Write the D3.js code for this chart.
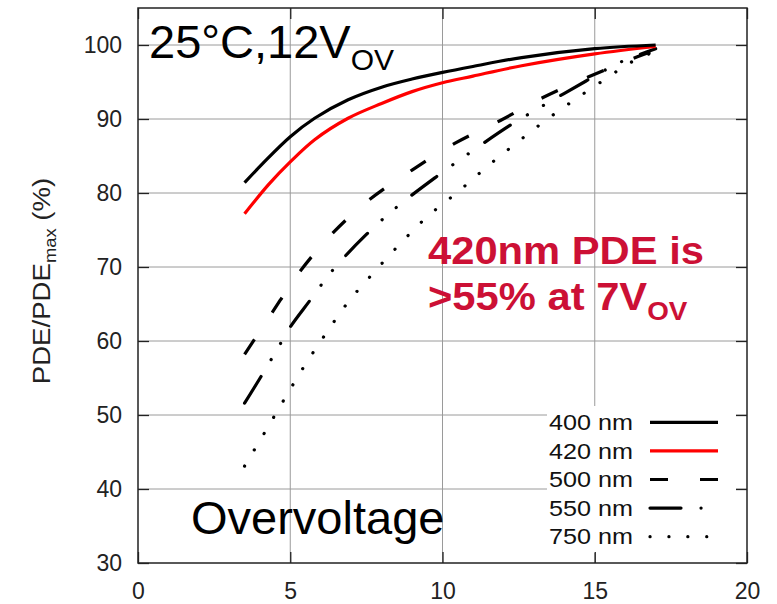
<!DOCTYPE html>
<html>
<head>
<meta charset="utf-8">
<script src="https://cdn.jsdelivr.net/npm/d3@7"></script>
<style>
  body { margin: 0; background: #fff; }
  svg text { font-family: "Liberation Sans", Arial, sans-serif; }
</style>
</head>
<body>
<div id="chart"></div>
<script>
// PDE/PDEmax vs overvoltage
var v400 = [3.5, 4.1, 5.0, 5.8, 6.9, 8.0, 9.0, 10.0, 11.0, 12.6, 15.0, 17.0];
var p400 = [81.4, 84.0, 87.6, 90.1, 92.6, 94.3, 95.4, 96.3, 97.1, 98.3, 99.5, 100.0];

var v420 = [3.5, 4.3, 5.0, 5.8, 6.9, 8.0, 9.0, 10.0, 11.0, 12.6, 15.0, 17.0];
var p420 = [77.2, 81.2, 84.2, 87.2, 90.1, 92.1, 93.7, 94.9, 95.8, 97.2, 98.8, 99.8];

var v500 = [3.5, 4.4, 5.3, 6.4, 7.6, 9.0, 10.4, 11.9, 13.3, 14.8, 16.4, 17.0];
var p500 = [58.2, 63.8, 69.3, 74.6, 79.1, 83.1, 86.7, 89.8, 92.9, 95.7, 98.4, 99.3];

var v550 = [3.5, 4.1, 4.7, 5.0, 5.65, 6.4, 7.5, 8.5, 9.8, 11.3, 12.2, 13.3, 14.7, 15.8, 17.0];
var p550 = [51.6, 55.6, 59.8, 61.9, 65.5, 69.6, 74.4, 78.1, 82.2, 86.6, 89.1, 91.8, 95.1, 97.6, 99.5];

var v750 = [3.5, 4.17, 4.8, 5.46, 6.17, 6.91, 7.73, 8.6, 9.5, 10.49, 11.45, 12.44, 13.45, 14.48, 15.53, 16.07, 17.0];
var p750 = [43.1, 47.7, 52.1, 56.6, 61.0, 65.3, 69.2, 73.1, 76.8, 80.1, 83.5, 86.8, 90.0, 93.0, 95.9, 97.4, 99.2];

var seriesNames = ["400 nm", "420 nm", "500 nm", "550 nm", "750 nm"];
var xTicks = [0, 5, 10, 15, 20];
var yTicks = [30, 40, 50, 60, 70, 80, 90, 100];

var W = 777, H = 604;
// plot edges (don't call these top/left at global scope, window.top is taken)
var pL = 138, pR = 747, pT = 8, pB = 563;

var svg = d3.select("#chart").append("svg")
    .attr("width", W)
    .attr("height", H);

var x = d3.scaleLinear().domain([0, 20]).range([pL, pR]);
var y = d3.scaleLinear().domain([30, 105]).range([pB, pT]);

// grid
svg.append("g").selectAll("line")
    .data([5, 10, 15])
    .enter().append("line")
    .attr("x1", function (d) { return x(d); })
    .attr("x2", function (d) { return x(d); })
    .attr("y1", pT).attr("y2", pB)
    .style("stroke", "#9a9a9a").style("stroke-width", 1);
svg.append("g").selectAll("line")
    .data(yTicks.slice(1))
    .enter().append("line")
    .attr("x1", pL).attr("x2", pR)
    .attr("y1", function (d) { return y(d); })
    .attr("y2", function (d) { return y(d); })
    .style("stroke", "#9a9a9a").style("stroke-width", 1);

// line styles (gnuplot-ish), dots need round caps to show up
var styles = [
    {colour: "#000", dash: null, cap: "butt"},
    {colour: "#f00", dash: null, cap: "butt"},
    {colour: "#000", dash: "18 32", cap: "butt"},
    {colour: "#000", dash: "31 20 0.1 18.5 0.1 20", cap: "round"},
    {colour: "#000", dash: "0.1 18.8", cap: "round"}
];

var data = [
    d3.zip(v400, p400),
    d3.zip(v420, p420),
    d3.zip(v500, p500),
    d3.zip(v550, p550),
    d3.zip(v750, p750)
];

var line = d3.line()
    .x(function (d) { return x(d[0]); })
    .y(function (d) { return y(d[1]); })
    .curve(d3.curveCatmullRom.alpha(0.5));

for (var i = data.length - 1; i >= 0; i--) {
    var p = svg.append("path")
        .attr("d", line(data[i]))
        .style("fill", "none")
        .style("stroke", styles[i].colour)
        .style("stroke-width", 3.2)
        .style("stroke-linecap", styles[i].cap);
    if (styles[i].dash) p.style("stroke-dasharray", styles[i].dash);
}

// legend box
svg.append("rect")
    .attr("x", 547).attr("y", 406)
    .attr("width", 189).attr("height", 147)
    .style("fill", "#fff");

var lg = svg.append("g");
seriesNames.forEach(function (name, i) {
    var ly = 422.3 + i * 28.6;
    lg.append("text")
        .attr("x", 633).attr("y", ly)
        .attr("dy", "0.35em")
        .attr("text-anchor", "end")
        .attr("font-size", "22px")
        .attr("textLength", 84)
        .attr("lengthAdjust", "spacingAndGlyphs")
        .style("fill", "#111")
        .text(name);
    var l = lg.append("line")
        .attr("x1", 650).attr("x2", 718)
        .attr("y1", ly).attr("y2", ly)
        .style("stroke", styles[i].colour)
        .style("stroke-width", 3.2)
        .style("stroke-linecap", styles[i].cap);
    if (styles[i].dash) l.style("stroke-dasharray", styles[i].dash);
});

// frame + mirrored ticks
svg.append("rect")
    .attr("x", pL).attr("y", pT)
    .attr("width", pR - pL).attr("height", pB - pT)
    .style("fill", "none").style("stroke", "#222").style("stroke-width", 1.5);

svg.append("g")
    .attr("transform", "translate(" + pL + ",0)")
    .call(d3.axisLeft(y).tickValues(yTicks).tickSizeInner(-11).tickSizeOuter(0).tickPadding(16));
svg.append("g")
    .attr("transform", "translate(0," + pB + ")")
    .call(d3.axisBottom(x).tickValues(xTicks).tickSizeInner(-11).tickSizeOuter(0).tickPadding(20));
svg.append("g")
    .attr("transform", "translate(" + pR + ",0)")
    .call(d3.axisRight(y).tickValues(yTicks).tickSizeInner(-11).tickSizeOuter(0).tickFormat(function () { return ""; }));
svg.append("g")
    .attr("transform", "translate(0," + pT + ")")
    .call(d3.axisTop(x).tickValues(xTicks).tickSizeInner(-11).tickSizeOuter(0).tickFormat(function () { return ""; }));

svg.selectAll(".domain").remove();
svg.selectAll(".tick line").style("stroke", "#222").style("stroke-width", 1.3);
svg.selectAll(".tick text")
    .attr("font-size", "23px")
    .attr("font-family", null)
    .style("fill", "#222");

// y axis title
var yt = svg.append("text")
    .attr("transform", "translate(50,281) rotate(-90) scale(1.15,1)")
    .attr("text-anchor", "middle")
    .attr("font-size", "24px")
    .style("fill", "#222");
yt.append("tspan").text("PDE/PDE");
yt.append("tspan").attr("font-size", "16px").attr("dy", 6).text("max");
yt.append("tspan").attr("dy", -6).text(" (%)");

// annotations
var t1 = svg.append("text")
    .attr("x", 149).attr("y", 58)
    .attr("font-size", "47px")
    .style("fill", "#000");
t1.append("tspan").text("25°C,12V");
t1.append("tspan").attr("font-size", "30px").attr("dy", 12).text("OV");

svg.append("text")
    .attr("x", 191).attr("y", 534)
    .attr("font-size", "47px")
    .style("fill", "#000")
    .text("Overvoltage");

var red = svg.append("g")
    .attr("transform", "translate(428,0) scale(1.07,1)")
    .style("fill", "#cc1035")
    .attr("font-weight", "bold");
red.append("text")
    .attr("x", 0).attr("y", 264)
    .attr("font-size", "39px")
    .text("420nm PDE is");
var r2 = red.append("text")
    .attr("x", 0).attr("y", 310)
    .attr("font-size", "39px");
r2.append("tspan").text(">55% at 7V");
r2.append("tspan").attr("font-size", "26px").attr("dy", 10).text("OV");
</script>
</body>
</html>
